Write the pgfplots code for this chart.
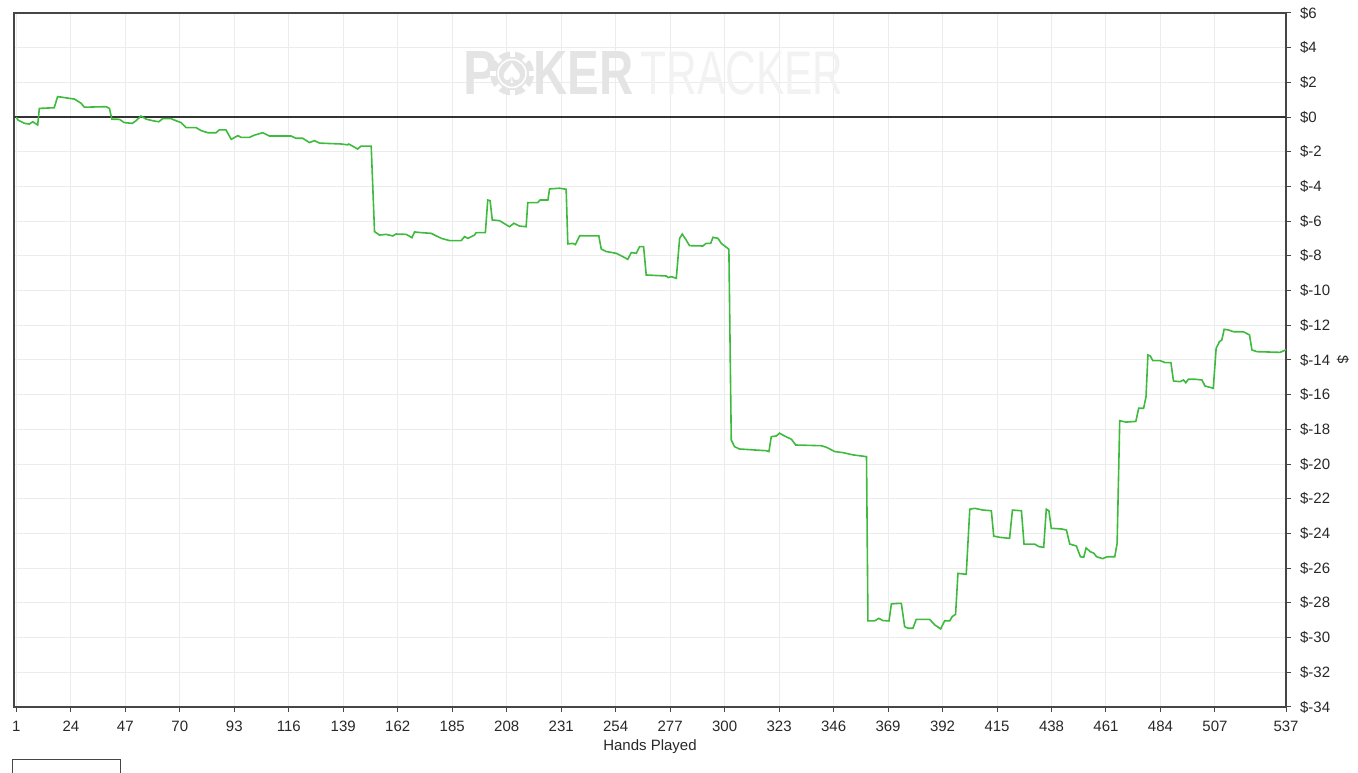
\documentclass[border=0pt]{standalone}
\usepackage{fontspec}
\setmainfont{Liberation Sans}
\newfontfamily\symfont{DejaVu Sans}
\usepackage{graphicx}
\usepackage{pgfplots}
\pgfplotsset{compat=1.18}
\usetikzlibrary{calc}

\definecolor{pline}{RGB}{62,186,62}
\definecolor{gridc}{RGB}{236,236,236}
\definecolor{axc}{RGB}{70,70,70}
\definecolor{txt}{RGB}{40,40,40}
\definecolor{wmdark}{RGB}{228,228,228}
\definecolor{wmlight}{RGB}{242,242,242}

\begin{document}
\begin{tikzpicture}
\begin{axis}[
  scale only axis, width=636pt, height=347pt,
  xmin=0, xmax=537, ymin=-34, ymax=6,
  axis line style={axc, line width=0.6pt},
  xtick={1,24,47,70,93,116,139,162,185,208,231,254,277,300,323,346,369,392,415,438,461,484,507,537},
  ytick={-34,-32,...,6},
  yticklabels={\$-34,\$-32,\$-30,\$-28,\$-26,\$-24,\$-22,\$-20,\$-18,\$-16,\$-14,\$-12,\$-10,\$-8,\$-6,\$-4,\$-2,\$0,\$2,\$4,\$6},
  xtick pos=bottom, ytick pos=right, yticklabel pos=right,
  tick align=outside, major tick length=2.5pt,
  tick style={axc, line width=0.5pt},
  grid=major, major grid style={gridc, line width=0.5pt},
  /pgf/number format/assume math mode=true,
  ticklabel style={font=\fontsize{7.5}{9}\selectfont, text=txt},
  xticklabel style={yshift=-1pt},
  yticklabel style={xshift=1pt},
  xlabel={Hands Played},
  xlabel style={font=\fontsize{7.5}{9}\selectfont, text=txt, at={(axis description cs:0.5,0)}, anchor=base, yshift=-22pt},
  ylabel={\$},
  ylabel style={font=\fontsize{7.5}{9}\selectfont, text=txt, at={(axis description cs:1.0448,0.5)}, anchor=center, rotate=180},
]
  \addplot[black!80, line width=0.6pt, forget plot] coordinates {(0,0) (537,0)};
  \addplot[pline, line width=0.8pt] coordinates {
    (1,0) (1.7,-0.17) (4.4,-0.36) (6.5,-0.4) (7.9,-0.27) (10,-0.46) (10.7,0.5) (17,0.54)
    (18.4,1.18) (20.5,1.14) (23.4,1.08) (25.5,1.04) (28.3,0.8) (29.7,0.57) (38.9,0.6) (40.3,0.5)
    (41.3,-0.12) (44.5,-0.13) (46.6,-0.32) (50,-0.36) (51.5,-0.21) (53.6,0.06) (55.8,-0.12)
    (58.6,-0.21) (61.1,-0.27) (62.8,-0.09) (66.3,-0.09) (68.4,-0.21) (70.6,-0.32) (72.7,-0.61)
    (76.9,-0.61) (79,-0.78) (81.8,-0.9) (85.3,-0.9) (86.7,-0.74) (89.5,-0.74) (91.7,-1.28)
    (94.5,-1.07) (95.9,-1.17) (99.4,-1.17) (101.5,-1.04) (105,-0.9) (107.8,-1.09) (117,-1.09)
    (119,-1.22) (121.9,-1.22) (124.7,-1.47) (126.8,-1.36) (129,-1.5) (138.1,-1.55) (140.9,-1.6)
    (141.3,-1.55) (145.1,-1.84) (146.5,-1.67) (150.8,-1.67) (152.2,-6.6) (154.3,-6.8)
    (157.1,-6.76) (159.9,-6.85) (161.3,-6.74) (165.6,-6.76) (168,-6.95) (169.1,-6.62)
    (171.9,-6.66) (176.1,-6.7) (180.4,-6.99) (183.9,-7.12) (188.8,-7.12) (190.2,-6.89)
    (191.6,-6.99) (194.4,-6.8) (195.1,-6.66) (199,-6.66) (200,-4.78) (201,-4.82) (201.9,-5.93)
    (205,-5.97) (206.4,-6.09) (209.2,-6.32) (211,-6.12) (213.4,-6.28) (216.2,-6.32) (216.9,-4.93)
    (221.1,-4.93) (222.1,-4.78) (225.4,-4.78) (226.1,-4.14) (230.3,-4.1) (233.1,-4.16)
    (233.8,-7.31) (235.9,-7.28) (237,-7.35) (238.8,-6.84) (246.9,-6.85) (247.9,-7.6) (250,-7.75)
    (254.2,-7.85) (257,-8.04) (259.1,-8.2) (260.6,-7.81) (262.7,-7.85) (264.1,-7.47) (265.8,-7.47)
    (266.9,-9.1) (275.4,-9.16) (276.1,-9.25) (277.5,-9.2) (279.6,-9.29) (281,-6.99) (282.1,-6.74)
    (283.6,-7.05) (285.2,-7.41) (290.8,-7.43) (292.2,-7.28) (294.1,-7.28) (295.1,-6.93)
    (297.2,-6.99) (298.6,-7.28) (300.7,-7.5) (301.8,-7.62) (302.8,-18.61) (304.2,-19)
    (306.3,-19.13) (317.6,-19.23) (318.7,-19.28) (319.7,-18.42) (321.8,-18.38) (323.2,-18.22)
    (325.3,-18.38) (328.2,-18.57) (330,-18.9) (340.8,-18.94) (343,-19.03) (346.5,-19.28)
    (350,-19.34) (354.2,-19.47) (359.9,-19.57) (360.5,-29.04) (363.3,-29.04) (365.1,-28.89)
    (366.8,-29.02) (369.4,-29.04) (370.4,-28.06) (373.2,-28.03) (374.6,-28.03) (376,-29.37)
    (377.4,-29.46) (379.5,-29.46) (380.9,-28.95) (386.6,-28.95) (388.7,-29.27) (391.2,-29.5)
    (392.9,-29.03) (395,-29.04) (396.1,-28.79) (397.5,-28.66) (398.5,-26.3) (402,-26.35)
    (403.5,-22.6) (405.6,-22.55) (409.1,-22.65) (412.6,-22.69) (413.6,-24.15) (416.1,-24.22)
    (420.3,-24.28) (421.5,-22.65) (425.3,-22.69) (426.4,-24.61) (430.9,-24.61) (432.7,-24.76)
    (434.7,-24.8) (435.8,-22.6) (436.9,-22.69) (437.9,-23.7) (442.2,-23.74) (444.3,-23.8)
    (445.7,-24.61) (448.5,-24.72) (450.2,-25.34) (451.6,-25.37) (452.6,-24.84) (454.4,-25.05)
    (455.9,-25.14) (457,-25.34) (459.6,-25.45) (461.5,-25.34) (464.7,-25.34) (465.7,-24.57)
    (466.8,-17.5) (469.4,-17.58) (473.6,-17.54) (474.8,-16.78) (476.9,-16.78) (477.9,-16.11)
    (478.7,-13.71) (479.7,-13.77) (480.8,-14.04) (483.9,-14.04) (486,-14.15) (488.4,-14.15)
    (489.5,-15.21) (492.3,-15.25) (493.7,-15.15) (494.7,-15.31) (495.8,-15.11) (498.6,-15.11)
    (501.5,-15.15) (502.8,-15.5) (506.3,-15.63) (507.5,-13.33) (508.9,-12.94) (509.9,-12.85)
    (510.9,-12.23) (512.7,-12.27) (514.8,-12.37) (519,-12.37) (521.6,-12.56) (522.6,-13.42)
    (524.7,-13.52) (534.5,-13.56) (536.2,-13.46) (537,-13.4)
  };
\end{axis}

% watermark, coordinates in reference pixels from the axis' top left corner
\begin{scope}[shift={(current axis.north west)}, x=0.5pt, y=-0.5pt]
  \node[anchor=base west, inner sep=0, text=wmdark] at (449,82)
    {\resizebox{17pt}{21.5pt}{\bfseries P}};
  \fill[wmdark] (498,60.5) circle[radius=22];
  \foreach \a in {0,45,...,315}
    \fill[white, rotate around={\a:(498,60.5)}] (495.5,38) rectangle (500.5,44);
  \draw[white, line width=0.8pt] (498,60.5) circle[radius=14];
  \node[text=white, inner sep=0, font=\symfont\fontsize{14}{14}\selectfont] at (498,60.5) {♠};
  \node[anchor=base west, inner sep=0, text=wmdark] at (519,82)
    {\resizebox{50pt}{21.5pt}{\bfseries KER}};
  \node[anchor=base west, inner sep=0, text=wmlight] at (626,82)
    {\resizebox{101.5pt}{21.5pt}{TRACKER}};
  % legend box, cut by the lower edge
  \draw[axc, line width=0.5pt, fill=white] (-2,747) rectangle (106,790);
\end{scope}

\pgfresetboundingbox
\path[use as bounding box] ($(current axis.south west)+(-7pt,-33pt)$) rectangle ($(current axis.north east)+(36pt,6.5pt)$);
\end{tikzpicture}
\end{document}
